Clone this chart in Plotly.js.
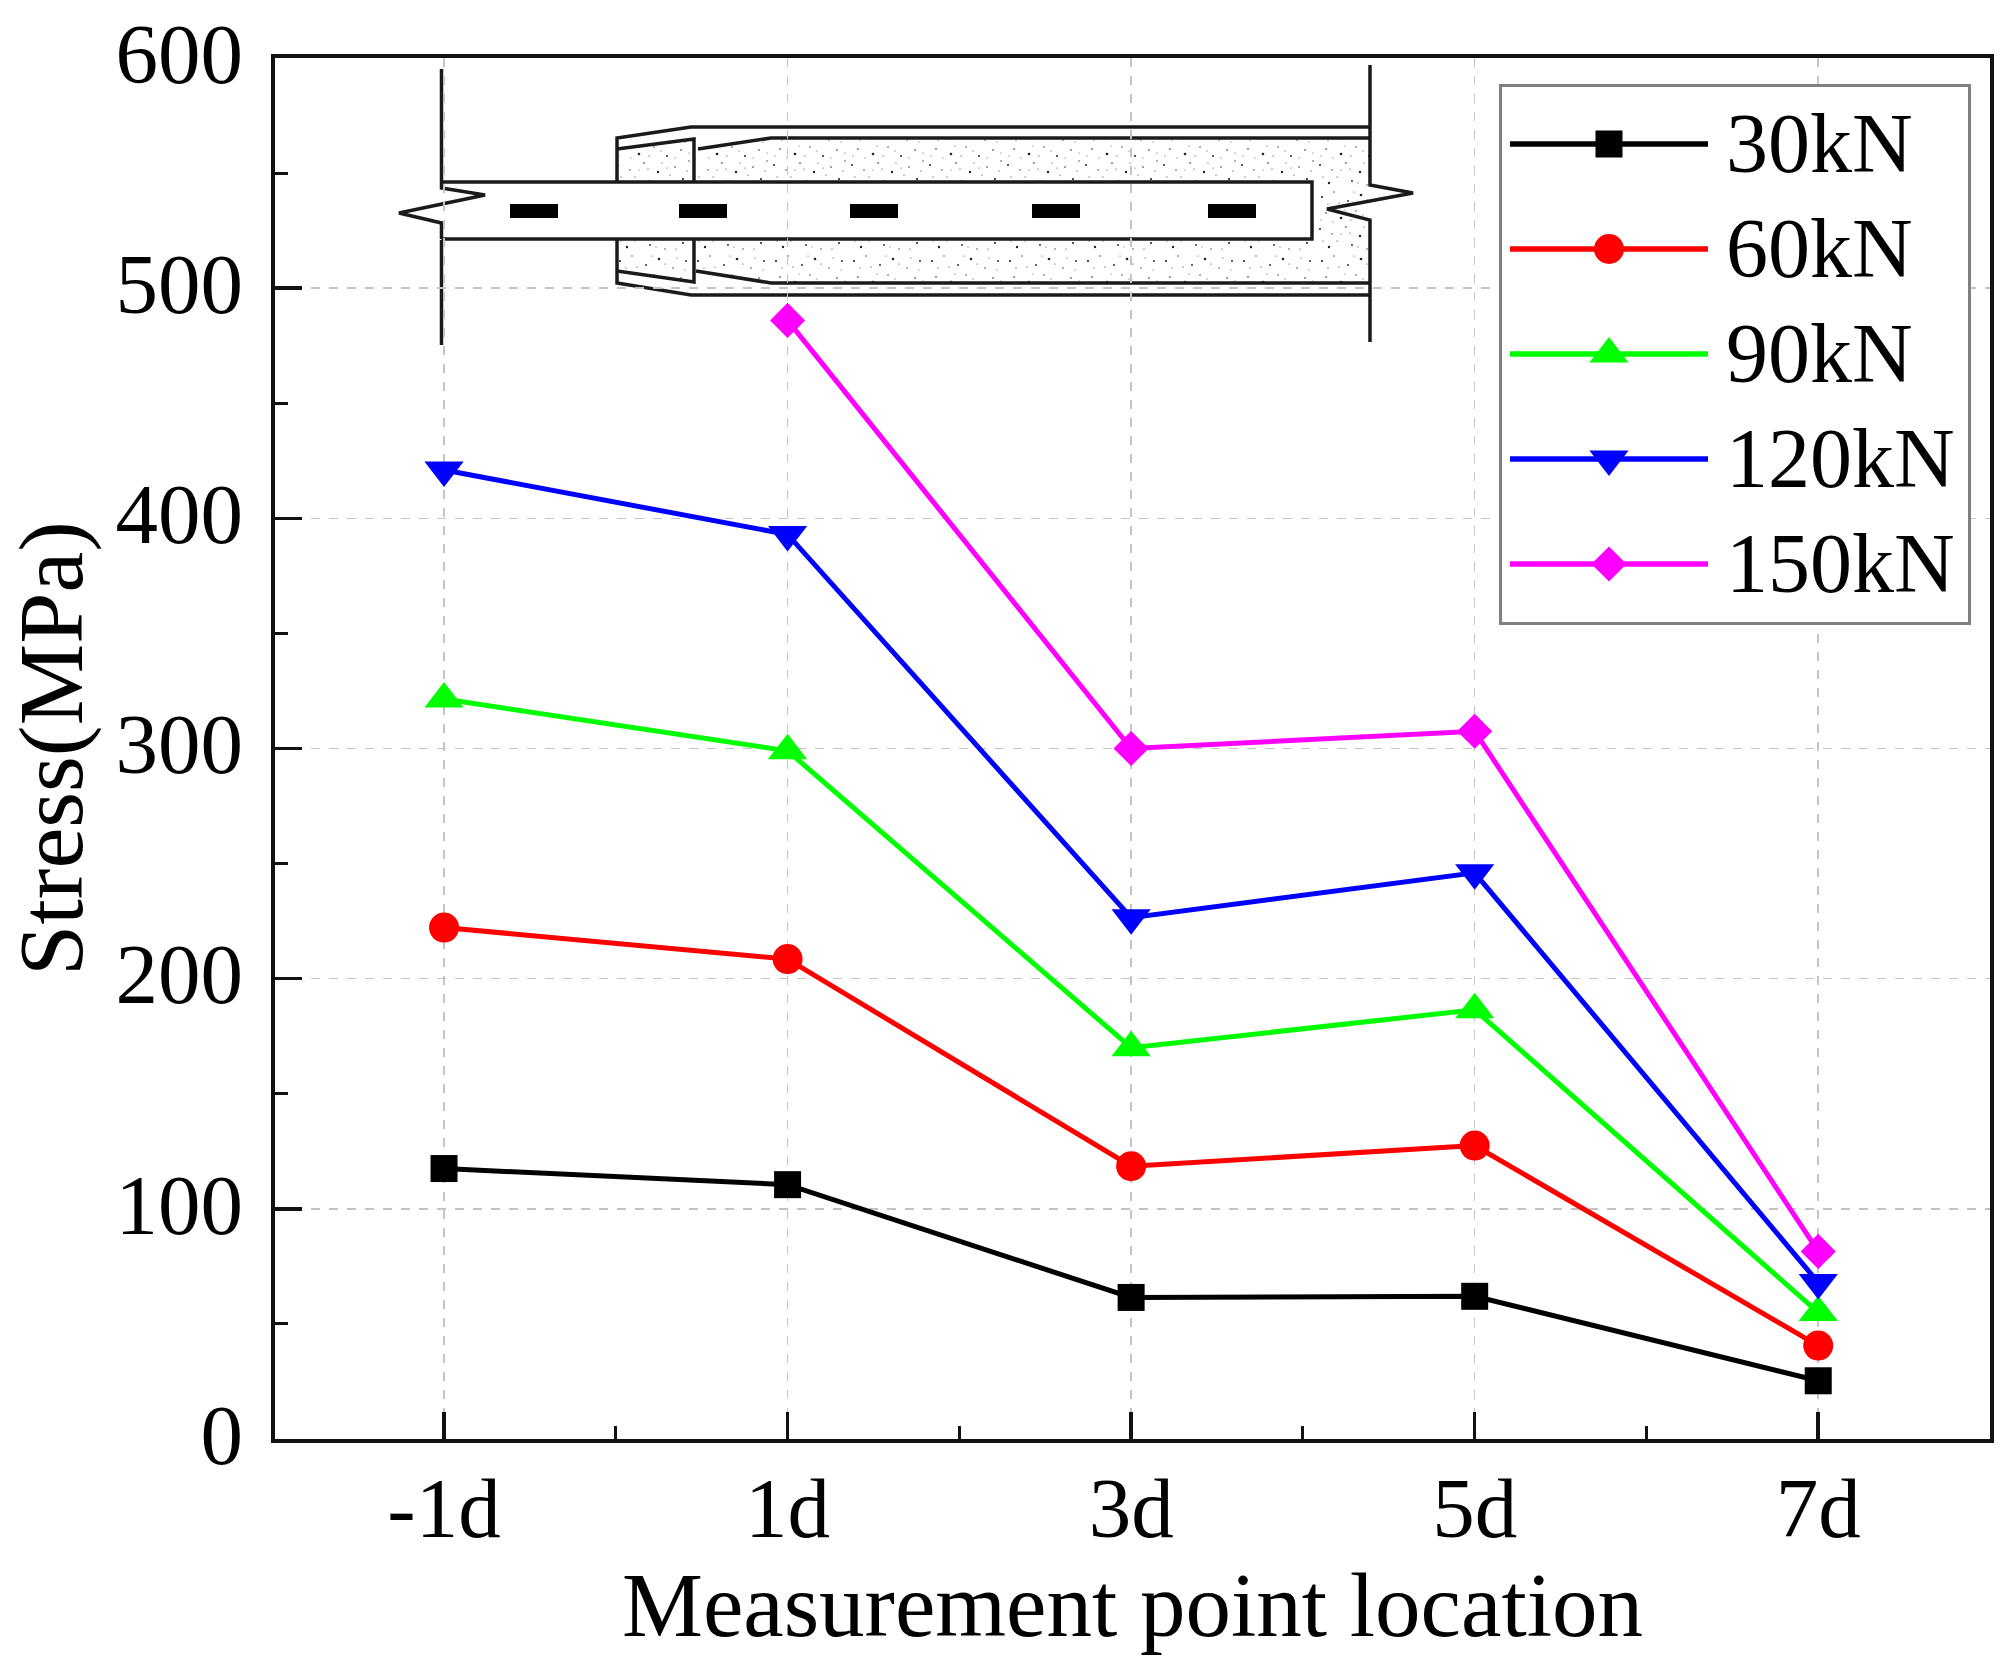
<!DOCTYPE html>
<html>
<head>
<meta charset="utf-8">
<script src="https://cdn.plot.ly/plotly-3.0.1.min.js"></script>
<style>html,body{margin:0;padding:0;background:#fff}</style>
</head>
<body>
<div id="chart" style="width:2016px;height:1677px"></div>
<script>
const categories = ["-1d", "1d", "3d", "5d", "7d"];
const seriesNames = ["30kN", "60kN", "90kN", "120kN", "150kN"];
const stress30 = [117.5, 110.5, 61.5, 62, 25.3];
const stress60 = [222.2, 208.5, 118.5, 127.5, 40.6];
const stress90 = [321.5, 299, 170, 186.5, 55];
const stress120 = [421, 393, 226.5, 246, 68];
const stress150 = [null, 486, 300, 307.5, 81.5];
const seriesValues = [stress30, stress60, stress90, stress120, stress150];
const colors = ["#000000", "#ff0000", "#00ff00", "#0000ff", "#ff00ff"];
const symbols = ["square", "circle", "triangle-up", "triangle-down", "diamond"];
const sizes = [27, 30, 34, 34, 27];

const PL = 275, PR = 1990, PT = 58, PB = 1439;
const fx = p => (p - PL) / (PR - PL);
const fy = p => (PB - p) / (PB - PT);
const FONT = "Liberation Serif";

// inset schematic, in page pixels
const polylines = [
  [[441.5,69],[441.5,182]], [[441.5,240],[441.5,345]],
  [[441.5,182],[1312,182],[1312,239],[441.5,239]],
  [[441.5,182],[441.5,188],[485,195],[399,213],[441.5,223],[441.5,239]],
  [[1370,65],[1370,185],[1413,193],[1327,209],[1370,220],[1370,342]],
  [[617,182],[617,138],[691,127],[1370,127]],
  [[617,240],[617,283],[691,295],[1370,295]],
  [[617,149],[694,139],[694,182]],
  [[617,271],[694,282],[694,240]],
  [[698,149],[771,138],[1370,138]],
  [[696,271],[771,283],[1370,283]]
];
const gaugeStarts = [510, 679, 850, 1032, 1208];

const shapes = polylines.map(pts => ({
  type: "path", xref: "paper", yref: "paper", layer: "between",
  path: pts.map((p, i) => (i ? "L" : "M") + fx(p[0]).toFixed(5) + "," + fy(p[1]).toFixed(5)).join(" "),
  line: {color: "#1a1a1a", width: 3.5}
})).concat(gaugeStarts.map(g => ({
  type: "rect", xref: "paper", yref: "paper", layer: "between",
  x0: fx(g), x1: fx(g + 48), y0: fy(218), y1: fy(204),
  fillcolor: "#000", line: {width: 0}
})));

// concrete speckle texture as a tiled pattern
const dots = [[5,8,1.1],[17,3,.7],[31,12,.9],[44,6,1.3],[58,15,.7],[9,24,.8],[24,29,1.3],[39,22,.7],[52,31,1],[66,25,.8],
  [3,40,1],[15,45,.7],[29,38,.8],[43,47,1.2],[60,42,.8],[71,8,.9],[74,36,.7],[12,58,1.2],[35,56,.9],[50,60,.7],[68,54,1.1],
  [22,14,.6],[47,38,.6],[6,52,.6],[62,5,.6],[33,44,.6],[55,50,.6],[20,52,.6],[11,15,.6],[37,3,.5],[50,11,.6],[70,17,.5],
  [16,33,.5],[34,31,.6],[60,33,.5],[72,46,.6],[24,45,.5],[41,58,.5],[61,60,.6],[28,21,.5],[46,26,.5],[74,28,.5],[4,31,.5],[52,43,.5]];
const pattern = dots.map(d => `<circle cx='${d[0]}' cy='${d[1]}' r='${d[2]}' fill='#222'/>`).join("");
const speckleSvg = `<svg xmlns='http://www.w3.org/2000/svg' width='760' height='160' viewBox='0 0 760 160'>` +
  `<defs><pattern id='p' width='78' height='64' patternUnits='userSpaceOnUse'>${pattern}</pattern></defs>` +
  `<path fill='url(#p)' d='M2,24 L79,14 L79,57 L2,57 Z M83,24 L156,13 L755,13 L755,158 L156,158 L81,146 L81,115 L697,115 L697,57 L83,57 Z M2,115 L79,115 L79,157 L2,146 Z'/></svg>`;

const traces = seriesValues.map((vals, i) => ({
  type: "scatter", mode: "lines+markers", name: seriesNames[i],
  x: categories.map((_, k) => k), y: vals,
  line: {color: colors[i], width: 5},
  marker: {symbol: symbols[i], size: sizes[i], color: colors[i], line: {width: 0}}
}));

const TICK = {family: FONT, size: 85, color: "#000"};
const TITLE_X = {family: FONT, size: 91, color: "#000"};
const TITLE_Y = {family: FONT, size: 92, color: "#000"};
const layout = {
  width: 2016, height: 1677, showlegend: true,
  margin: {l: PL, r: 2016 - PR, t: PT, b: 1677 - PB, pad: 0},
  paper_bgcolor: "#fff", plot_bgcolor: "#fff",
  font: {family: FONT, color: "#000"},
  xaxis: {
    range: [-0.492, 4.5], tickmode: "array",
    tickvals: categories.map((_, k) => k), ticktext: categories,
    ticks: "inside", ticklen: 27, tickwidth: 3.5, tickcolor: "#111",
    tickfont: TICK, ticklabelstandoff: -8,
    showline: true, mirror: true, linecolor: "#111", linewidth: 4,
    showgrid: true, gridcolor: "#c4c4c4", griddash: "dash", gridwidth: 1.5,
    zeroline: false,
    minor: {ticks: "inside", ticklen: 13, tickwidth: 3, tickcolor: "#111", tickmode: "array",
            tickvals: [0.5, 1.5, 2.5, 3.5], showgrid: false},
    title: {text: "Measurement point location", font: TITLE_X, standoff: 14}
  },
  yaxis: {
    range: [0, 600], tickmode: "linear", tick0: 0, dtick: 100,
    ticks: "inside", ticklen: 27, tickwidth: 3.5, tickcolor: "#111",
    tickfont: TICK, ticklabelstandoff: 11,
    showline: true, mirror: true, linecolor: "#111", linewidth: 4,
    showgrid: true, gridcolor: "#c4c4c4", griddash: "dash", gridwidth: 1.5,
    zeroline: false,
    minor: {ticks: "inside", ticklen: 13, tickwidth: 3, tickcolor: "#111", dtick: 50, tick0: 0, showgrid: false},
    title: {text: "Stress(MPa)", font: TITLE_Y, standoff: 14}
  },
  legend: {
    x: fx(1498.5), xanchor: "left", y: fy(84), yanchor: "top",
    bgcolor: "#fff", bordercolor: "#808080", borderwidth: 3,
    font: {family: FONT, size: 84, color: "#000"},
    itemwidth: 198, itemsizing: "trace", traceorder: "normal"
  },
  shapes: shapes,
  images: [{
    source: "data:image/svg+xml;charset=utf-8," + encodeURIComponent(speckleSvg),
    xref: "paper", yref: "paper", x: fx(615), y: fy(125),
    sizex: fx(1375) - fx(615), sizey: fy(125) - fy(285),
    sizing: "stretch", xanchor: "left", yanchor: "top", layer: "below"
  }]
};

// The library caps legend markers at 16px and fixes the row height, so the finished legend is fitted here.
const LEGEND_W = 469, LEGEND_H = 538, ROW0 = 60, ROW_STEP = 105, SYMBOL_SHIFT = 3.5, TEXT_X = 221, TEXT_DY = -5;
function fitLegend(gd) {
  gd.querySelectorAll(".legend .traces").forEach((row, i) => {
    const m = /translate\(([-\d.]+),\s*([-\d.]+)\)/.exec(row.getAttribute("transform"));
    row.setAttribute("transform", `translate(${+m[1] + SYMBOL_SHIFT},${ROW0 + i * ROW_STEP})`);
    row.querySelectorAll(".legendtext").forEach(t => {
      t.setAttribute("x", TEXT_X);
      t.setAttribute("y", +(t.getAttribute("y") || 0) + TEXT_DY);
    });
    row.querySelectorAll(".legendlines path").forEach(p => p.style.strokeWidth = "5.5px");
    row.querySelectorAll(".legendpoints path").forEach(p => {
      const cur = p.getAttribute("transform") || "";
      p.setAttribute("transform", `${cur} scale(${sizes[i] / 16})`);
    });
  });
  const bg = gd.querySelector(".legend .bg");
  bg.setAttribute("width", LEGEND_W);
  bg.setAttribute("height", LEGEND_H);
  const box = gd.querySelector(".legend .scrollbox");
  box.removeAttribute("clip-path");
  gd.querySelectorAll(".ytick text").forEach(t => t.setAttribute("y", +t.getAttribute("y") - 5));
}

Plotly.newPlot("chart", traces, layout, {displayModeBar: false, staticPlot: true})
  .then(fitLegend);
</script>
</body>
</html>
